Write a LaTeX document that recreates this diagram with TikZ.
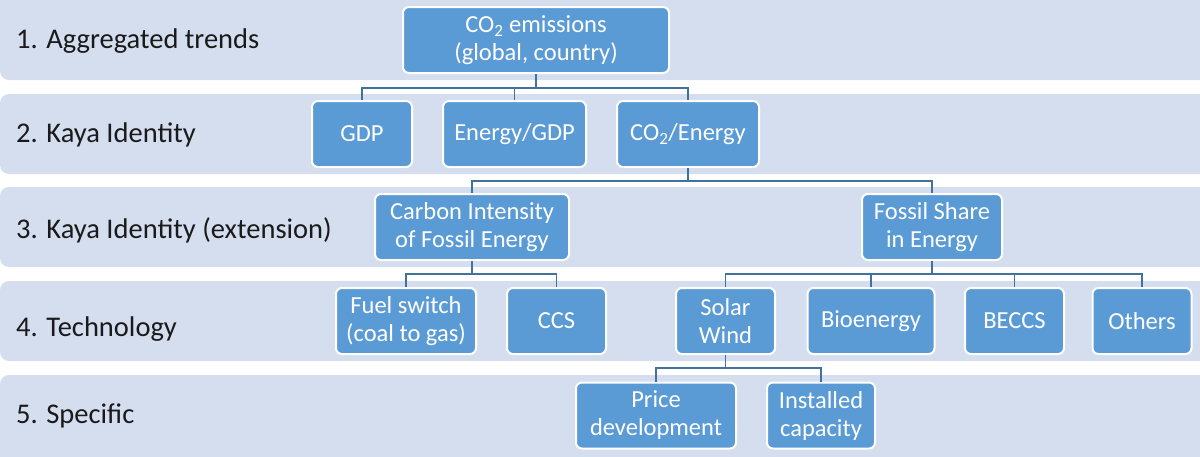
\documentclass[tikz,border=0pt]{standalone}
\usepackage{fontspec}
\setmainfont{Carlito}
\definecolor{bandfill}{HTML}{D4DEEF}
\definecolor{boxfill}{HTML}{5B9BD5}
\definecolor{connc}{HTML}{41719C}
\definecolor{labtext}{HTML}{1A1A1A}
\tikzset{
  band/.style={fill=bandfill, rounded corners=9pt},
  lab/.style={anchor=base west, inner sep=0pt, text=labtext, font=\fontsize{28.5}{34}\selectfont},
  tbox/.style={rectangle, rounded corners=6pt, fill=boxfill, draw=white, line width=2pt,
    text=white, align=center, inner sep=0pt, font=\fontsize{24.5}{28}\selectfont},
  conn/.style={draw=connc, line width=1.6pt}
}
\begin{document}
\begin{tikzpicture}[x=1pt,y=-1pt]
\useasboundingbox (0,0) rectangle (1200,456);
% bands
\fill[band] (0,-12) rectangle (1212,80);
\fill[band] (0,94) rectangle (1212,174);
\fill[band] (0,187) rectangle (1212,267);
\fill[band] (0,281) rectangle (1212,361);
\fill[band] (0,375) rectangle (1212,468);
% labels
\node[lab] (l1) at (16,48) {1. Aggregated trends};
\node[lab] (l2) at (16,142) {2. Kaya Identity};
\node[lab] (l3) at (16,238) {3. Kaya Identity (extension)};
\node[lab] (l4) at (16,336) {4. Technology};
\node[lab] (l5) at (16,423) {5. Specific};
% bus coordinates
\coordinate (b1) at (0,88);
\coordinate (b2) at (0,181);
\coordinate (b3) at (0,274);
\coordinate (b4) at (0,368);
% boxes
\node[tbox, minimum width=266pt, minimum height=66pt] (co2) at (536,40) {CO\textsubscript{2} emissions\\(global, country)};
\node[tbox, minimum width=100pt, minimum height=66pt] (gdp) at (362,134) {GDP};
\node[tbox, minimum width=143pt, minimum height=66pt] (egdp) at (514.5,134) {Energy/GDP};
\node[tbox, minimum width=142pt, minimum height=66pt] (coe) at (688,134) {CO\textsubscript{2}/Energy};
\node[tbox, minimum width=194pt, minimum height=66pt] (ci) at (472,227) {Carbon Intensity\\of Fossil Energy};
\node[tbox, minimum width=140pt, minimum height=66pt] (fs) at (932,227) {Fossil Share\\in Energy};
\node[tbox, minimum width=140pt, minimum height=66pt] (fuel) at (406,321) {Fuel switch\\(coal to gas)};
\node[tbox, minimum width=99pt, minimum height=66pt] (ccs) at (556.5,321) {CCS};
\node[tbox, minimum width=99pt, minimum height=66pt] (sw) at (725.5,321) {Solar\\Wind};
\node[tbox, minimum width=127pt, minimum height=66pt] (bio) at (871,321) {Bioenergy};
\node[tbox, minimum width=99pt, minimum height=66pt] (beccs) at (1014.5,321) {BECCS};
\node[tbox, minimum width=99pt, minimum height=66pt] (oth) at (1142,321) {Others};
\node[tbox, minimum width=160pt, minimum height=66pt] (price) at (656,415.5) {Price\\development};
\node[tbox, minimum width=108pt, minimum height=66pt] (inst) at (821,415.5) {Installed\\capacity};
% connectors
\foreach \c in {gdp,egdp,coe}{
  \draw[conn] (co2.south) -- (co2.south |- b1) -| (\c.north);
}
\foreach \c in {ci,fs}{
  \draw[conn] (coe.south) -- (coe.south |- b2) -| (\c.north);
}
\foreach \c in {fuel,ccs}{
  \draw[conn] (ci.south) -- (ci.south |- b3) -| (\c.north);
}
\foreach \c in {sw,bio,beccs,oth}{
  \draw[conn] (fs.south) -- (fs.south |- b3) -| (\c.north);
}
\foreach \c in {price,inst}{
  \draw[conn] (sw.south) -- (sw.south |- b4) -| (\c.north);
}
\end{tikzpicture}
\end{document}
